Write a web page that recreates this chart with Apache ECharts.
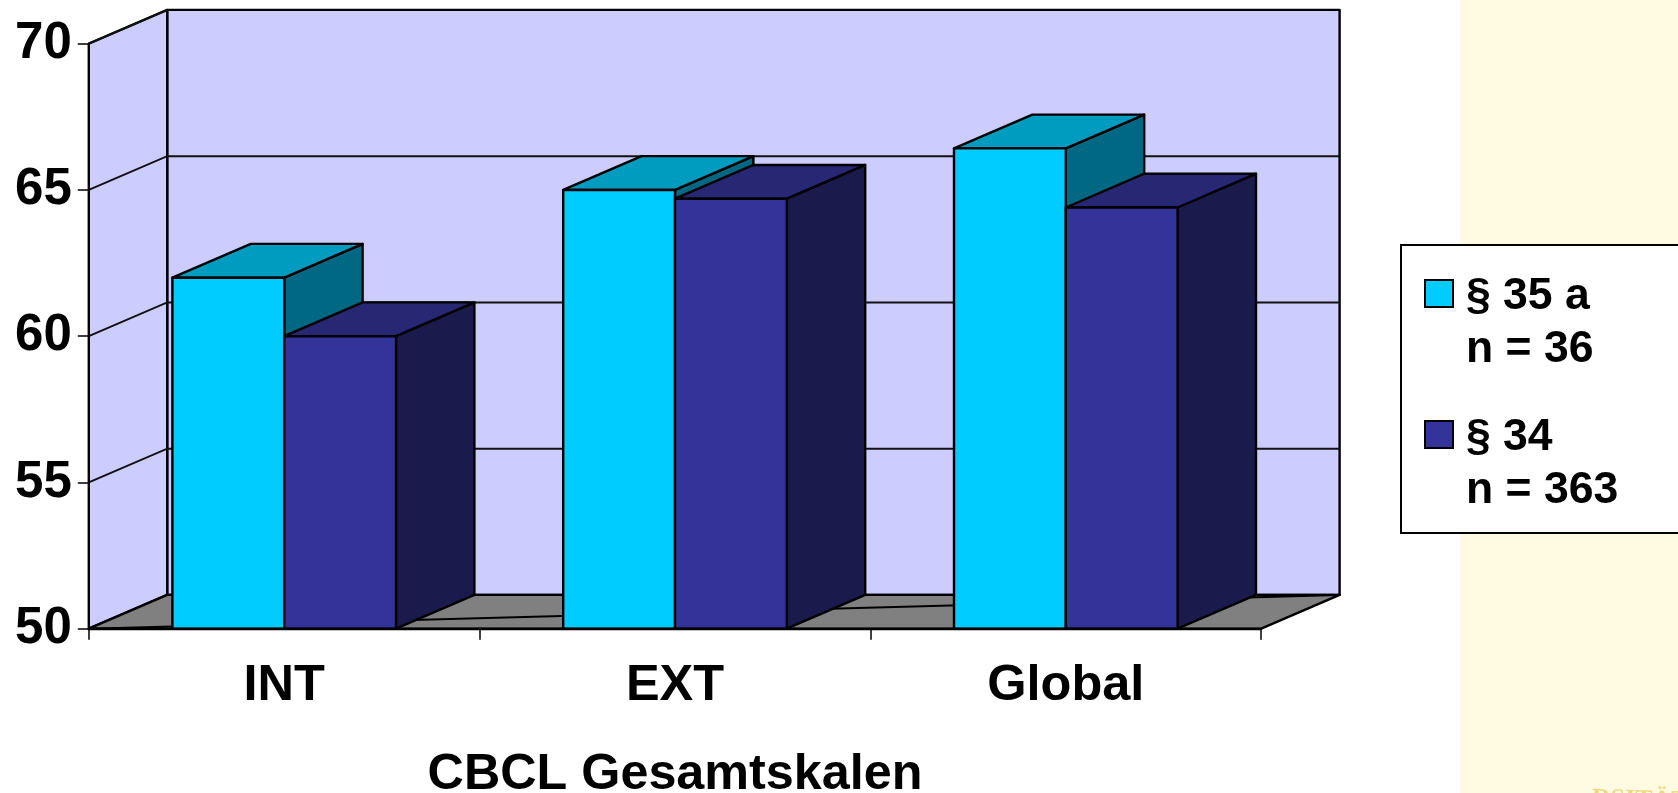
<!DOCTYPE html>
<html><head><meta charset="utf-8">
<style>html,body{margin:0;padding:0;background:#fff}#c{width:1678px;height:793px}</style>
<script src="https://cdn.jsdelivr.net/npm/echarts@6/dist/echarts.min.js"></script>
</head><body><div id="c"></div>
<script>
const categories = ['INT', 'EXT', 'Global'];
const seriesNames = ['§ 35 a\nn = 36', '§ 34\nn = 363'];
const values35a = [62.0, 65.0, 66.42];
const values34 = [60.0, 64.7, 64.4];
const yTicks = [50, 55, 60, 65, 70];
const axisName = 'CBCL Gesamtskalen';

const font = '"Liberation Sans", Arial, sans-serif';
const DX = 78.4, DY = -33.8;
const BAR = 111.8;
const faces = [
  {front:'#00CCFF', top:'#009CBF', side:'#006882'},
  {front:'#333399', top:'#272773', side:'#1A1A4D'}
];
const legendIcon = 'path://M0 0M0 10H28V37H0ZM28 106';
const chart = echarts.init(document.getElementById('c'), null, {renderer:'canvas'});

function poly(points, fill, lw){
  return {type:'polygon', shape:{points}, style:{fill, stroke:'#000', lineWidth:lw||2.4, lineJoin:'round'}};
}
function renderFrame(params, api){
  const tick = api.value(0);
  const cs = params.coordSys;
  const xL = cs.x, xR = cs.x + cs.width;
  const y = api.coord([0, tick])[1];
  const y0 = api.coord([0, 50])[1];
  const y1 = api.coord([0, 70])[1];
  const children = [];
  if (params.dataIndex === 0) {
    children.push(poly([[xL+DX,y1+DY],[xR+DX,y1+DY],[xR+DX,y0+DY],[xL+DX,y0+DY]], '#CCCCFF'));
    children.push(poly([[xL,y1],[xL+DX,y1+DY],[xL+DX,y0+DY],[xL,y0]], '#CCCCFF'));
    children.push(poly([[xL,y0],[xL+DX,y0+DY],[xR+DX,y0+DY],[xR,y0]], '#808080'));
    children.push({type:'line', shape:{x1:xL,y1:y0,x2:xR+DX,y2:y0+DY}, style:{stroke:'#000',lineWidth:2}});
  } else if (tick < 70) {
    children.push({type:'polyline', shape:{points:[[xL,y],[xL+DX,y+DY],[xR+DX,y+DY]]}, style:{stroke:'#111',lineWidth:2,fill:null}});
  } else {
    children.push({type:'line', shape:{x1:xL,y1:y,x2:xL+DX,y2:y+DY}, style:{stroke:'#111',lineWidth:2}});
  }
  return {type:'group', children};
}
function renderBar(idx){
  return function(params, api){
    const cat = api.value(0);
    const c = api.coord([cat, api.value(1)]);
    const base = api.coord([cat, 50])[1];
    const x0 = c[0] + (idx === 0 ? -BAR : 0);
    const x1 = x0 + BAR;
    const f = faces[idx];
    return {type:'group', children:[
      poly([[x1,c[1]],[x1+DX,c[1]+DY],[x1+DX,base+DY],[x1,base]], f.side),
      poly([[x0,c[1]],[x0+DX,c[1]+DY],[x1+DX,c[1]+DY],[x1,c[1]]], f.top),
      poly([[x0,c[1]],[x1,c[1]],[x1,base],[x0,base]], f.front)
    ]};
  };
}
chart.setOption({
  animation:false,
  backgroundColor:'#fff',
  textStyle:{fontFamily:font},
  graphic:[
    {type:'rect', z:-10, silent:true, shape:{x:1460.5,y:0,width:218,height:793}, style:{fill:'#FFFBE3'}},
    {type:'text', z:-9, silent:true, x:1592, y:786, rotation:-0.03,
     style:{text:'RSITÄT', fill:'#EFD97F', font:'bold 26px "Liberation Serif", serif'}}
  ],
  grid:{left:88.8, top:43.7, width:1172.4, height:585, containLabel:false, outerBoundsMode:'none'},
  xAxis:{type:'category', data:categories, z:10,
    axisLine:{lineStyle:{color:'#000',width:2.4}},
    axisTick:{show:true, alignWithLabel:false, length:11, lineStyle:{color:'#000',width:1.5}},
    axisLabel:{color:'#000',fontSize:50.5,fontWeight:'bold',fontFamily:font,margin:32},
    name:axisName, nameLocation:'middle', nameGap:121,
    nameTextStyle:{color:'#000',fontSize:50.3,fontWeight:'bold',fontFamily:font}},
  yAxis:{type:'value', min:50, max:70, interval:5, z:10,
    axisLine:{show:true,lineStyle:{color:'#000',width:2}},
    axisTick:{show:true,length:11,lineStyle:{color:'#000',width:1.5}},
    splitLine:{show:false},
    axisLabel:{color:'#000',fontSize:51,fontWeight:'bold',fontFamily:font,margin:17,
      formatter:v=>yTicks.includes(v)?String(v):''}},
  legend:{show:true, orient:'vertical', left:1401, top:245, z:20,
    padding:[24,240,15,23],
    itemGap:33, itemWidth:28, itemHeight:106,
    backgroundColor:'#fff', borderColor:'#000', borderWidth:2, borderRadius:0,
    textStyle:{color:'#000',fontSize:44.5,fontWeight:'bold',fontFamily:font,lineHeight:53,padding:[0,0,0,8]},
    data:[
      {name:seriesNames[0],icon:legendIcon,itemStyle:{color:faces[0].front,borderColor:'#000',borderWidth:2}},
      {name:seriesNames[1],icon:legendIcon,itemStyle:{color:faces[1].front,borderColor:'#000',borderWidth:2}}
    ]},
  series:[
    {type:'custom', name:'frame', silent:true, z:1, renderItem:renderFrame, coordinateSystem:'cartesian2d', clip:false,
     encode:{y:0}, data:yTicks.map(v=>[v])},
    {type:'custom', name:seriesNames[0], z:3, renderItem:renderBar(0), clip:false,
     itemStyle:{color:faces[0].front}, encode:{x:0,y:1},
     data:values35a.map((v,i)=>[i,v])},
    {type:'custom', name:seriesNames[1], z:4, renderItem:renderBar(1), clip:false,
     itemStyle:{color:faces[1].front}, encode:{x:0,y:1},
     data:values34.map((v,i)=>[i,v])}
  ]
});
</script></body></html>
